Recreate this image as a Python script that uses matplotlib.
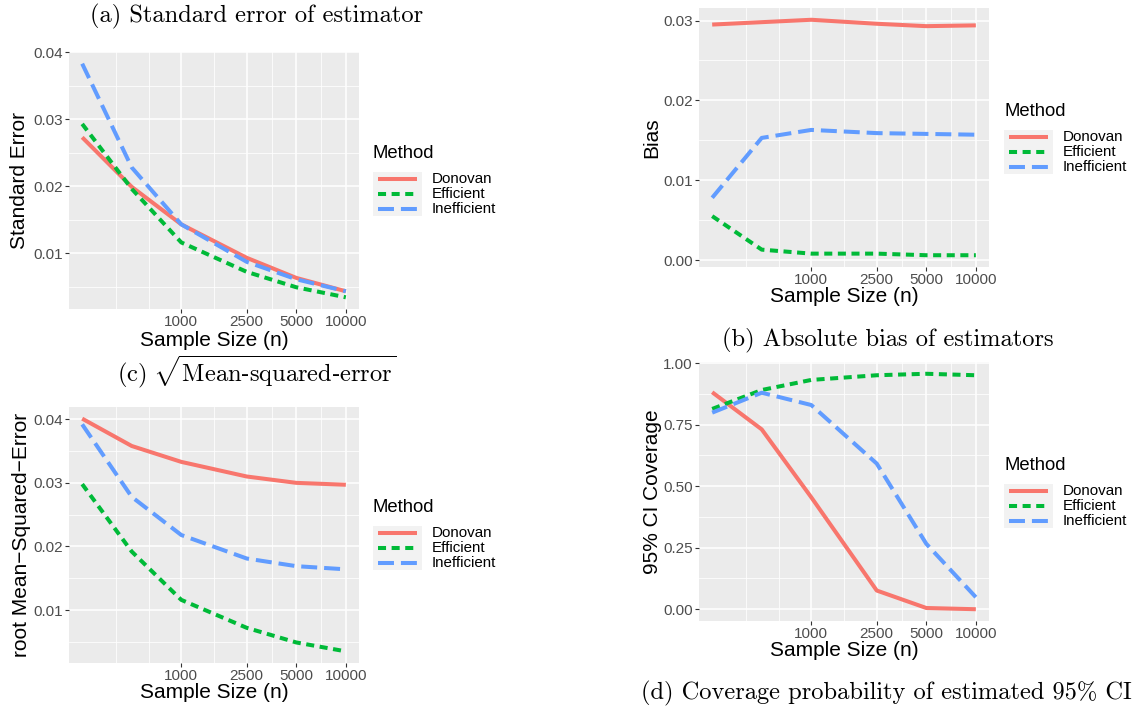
import numpy as np
import matplotlib
matplotlib.use("Agg")
import matplotlib.pyplot as plt
from matplotlib.lines import Line2D
from matplotlib.patches import Rectangle
from matplotlib.ticker import FixedLocator, FormatStrFormatter, NullFormatter

# ---------------- data ----------------
sample_size = [250, 500, 1000, 2500, 5000, 10000]
x_breaks = [1000, 2500, 5000, 10000]
methods = ["Donovan", "Efficient", "Inefficient"]

se_donovan = [0.0273, 0.0199, 0.0143, 0.0093, 0.0063, 0.0043]
se_efficient = [0.0293, 0.0196, 0.0116, 0.0072, 0.0049, 0.0034]
se_inefficient = [0.0383, 0.0228, 0.0143, 0.0087, 0.0061, 0.0043]

bias_donovan = [0.0295, 0.0298, 0.0301, 0.0296, 0.0293, 0.0294]
bias_efficient = [0.0055, 0.0013, 0.0008, 0.0008, 0.0006, 0.0006]
bias_inefficient = [0.0078, 0.0153, 0.0163, 0.0159, 0.0158, 0.0157]

rmse_donovan = [0.0401, 0.0358, 0.0333, 0.0310, 0.0300, 0.0297]
rmse_efficient = [0.0298, 0.0192, 0.0116, 0.0072, 0.0049, 0.0035]
rmse_inefficient = [0.0392, 0.0278, 0.0218, 0.0181, 0.0169, 0.0164]

cov_donovan = [0.882, 0.731, 0.455, 0.076, 0.005, 0.0]
cov_efficient = [0.814, 0.891, 0.932, 0.951, 0.957, 0.951]
cov_inefficient = [0.799, 0.880, 0.830, 0.592, 0.266, 0.049]

se_ticks = [0.01, 0.02, 0.03, 0.04]
bias_ticks = [0.00, 0.01, 0.02, 0.03]
rmse_ticks = [0.01, 0.02, 0.03, 0.04]
cov_ticks = [0.00, 0.25, 0.50, 0.75, 1.00]

# ---------------- style ----------------
W, H = 1137, 710
DPI = 100
colors = {"Donovan": "#F8766D", "Efficient": "#00BA38", "Inefficient": "#619CFF"}
dashes = {"Donovan": None, "Efficient": (5.8, 4.0), "Inefficient": (11.5, 5.0)}
LW = 2.9
SANS = ["Liberation Sans", "DejaVu Sans"]
plt.rcParams["lines.scale_dashes"] = False
plt.rcParams["font.family"] = SANS

fig = plt.figure(figsize=(W / DPI, H / DPI), dpi=DPI)
fig.patch.set_facecolor("white")


def rect(x0, y0, x1, y1):
    return [x0 / W, 1 - y1 / H, (x1 - x0) / W, (y1 - y0) / H]


def fx(x):
    return x / W


def fy(y):
    return 1 - y / H


def make_panel(box, series, yticks, yfmt, ylabel, ylab_x, xlab_y):
    ax = fig.add_axes(rect(*box))
    ax.set_facecolor("#EBEBEB")
    for s in ax.spines.values():
        s.set_visible(False)
    ax.set_xscale("log")
    for name, vals in zip(methods, series):
        ln, = ax.plot(sample_size, vals, color=colors[name], lw=LW,
                      solid_capstyle="butt", dash_capstyle="butt", zorder=3)
        if dashes[name] is not None:
            ln.set_dashes(dashes[name])
    ax.margins(x=0.05, y=0.05)
    ax.autoscale_view()
    # x ticks & minor grid (ggplot style)
    lb = np.log10(x_breaks)
    step = lb[1] - lb[0]
    ext = np.concatenate([[lb[0] - step], lb])
    minor = (ext[:-1] + ext[1:]) / 2
    minor = np.concatenate([[ext[0]], minor])
    ax.xaxis.set_major_locator(FixedLocator(x_breaks))
    ax.xaxis.set_minor_locator(FixedLocator(10 ** minor))
    ax.set_xticklabels([str(b) for b in x_breaks])
    ax.xaxis.set_minor_formatter(NullFormatter())
    # y ticks
    ylo, yhi = ax.get_ylim()
    ax.yaxis.set_major_locator(FixedLocator(yticks))
    d = yticks[1] - yticks[0]
    ymin = [yticks[0] - d / 2] + [t + d / 2 for t in yticks]
    ax.yaxis.set_minor_locator(FixedLocator(ymin))
    ax.yaxis.set_major_formatter(FormatStrFormatter(yfmt))
    ax.set_ylim(ylo, yhi)
    ax.grid(True, which="major", color="white", lw=1.1, zorder=1)
    ax.grid(True, which="minor", color="white", lw=0.55, zorder=1)
    ax.set_axisbelow(True)
    ax.tick_params(which="major", length=2.6, width=0.8, color="#333333",
                   labelsize=11, labelcolor="#4D4D4D", pad=2)
    ax.tick_params(which="minor", length=0)
    ax.set_xlabel("Sample Size (n)", fontsize=15, color="black")
    ax.xaxis.label.set_va("center")
    bx0, by0, bx1, by1 = box
    ax.xaxis.set_label_coords(0.5, (by1 - xlab_y) / (by1 - by0))
    ax.set_ylabel(ylabel, fontsize=15, color="black")
    ax.yaxis.label.set_va("center")
    ax.yaxis.set_label_coords((ylab_x - bx0) / (bx1 - bx0), 0.5)
    return ax


def draw_legend(x, ty):
    fig.text(fx(x), fy(ty), "Method", fontsize=13.3, ha="left", va="center")
    fig.add_artist(Rectangle((fx(x), fy(ty + 62)), fx(49), 44 / H,
                             transform=fig.transFigure, facecolor="#F2F2F2",
                             edgecolor="none"))
    for i, name in enumerate(methods):
        yy = ty + 25 + 15 * i
        ln = Line2D([fx(x + 5), fx(x + 44)], [fy(yy), fy(yy)],
                    transform=fig.transFigure, color=colors[name], lw=LW,
                    solid_capstyle="butt", dash_capstyle="butt")
        if dashes[name] is not None:
            ln.set_dashes(dashes[name])
        fig.add_artist(ln)
        fig.text(fx(x + 59), fy(yy), name, fontsize=10.9, ha="left",
                 va="center")


make_panel((69, 52, 359, 309), [se_donovan, se_efficient, se_inefficient],
           se_ticks, "%.2f", "Standard Error", 20, 340)
make_panel((699, 8, 989, 267), [bias_donovan, bias_efficient, bias_inefficient],
           bias_ticks, "%.2f", "Bias", 652, 297)
make_panel((69, 407, 359, 663), [rmse_donovan, rmse_efficient, rmse_inefficient],
           rmse_ticks, "%.2f", "root Mean\u2212Squared\u2212Error", 22, 693)
make_panel((699, 362, 989, 621), [cov_donovan, cov_efficient, cov_inefficient],
           cov_ticks, "%.2f", "95% CI Coverage", 652, 650)

draw_legend(373, 154)
draw_legend(1004, 112)
draw_legend(373, 508)
draw_legend(1004, 466)

CAP = 17.6
fig.text(fx(257), fy(16), "(a) Standard error of estimator", family="cmr10",
         fontsize=CAP, ha="center", va="center")
fig.text(fx(888), fy(340), "(b) Absolute bias of estimators", family="cmr10",
         fontsize=CAP, ha="center", va="center")
fig.text(fx(257), fy(372),
         "$\\mathrm{(c)}\\ \\sqrt{\\mathrm{Mean\u2010squared\u2010error}}$",
         math_fontfamily="cm", fontsize=CAP, ha="center", va="center")
fig.text(fx(886), fy(693), "(d) Coverage probability of estimated 95% CI",
         family="cmr10", fontsize=CAP, ha="center", va="center")

fig.savefig("out.png", dpi=DPI)
